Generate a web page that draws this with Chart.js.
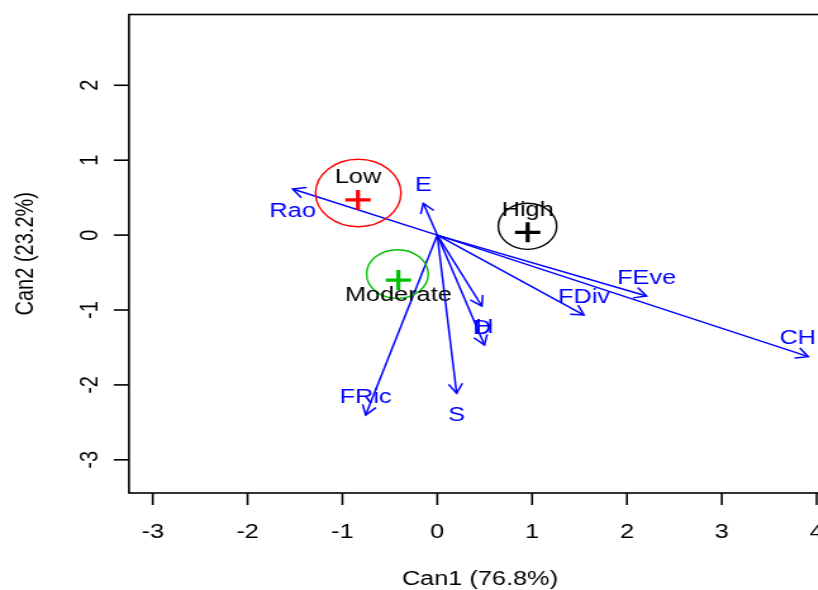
<!DOCTYPE html>
<html>
<head>
<meta charset="utf-8">
<script src="https://cdn.jsdelivr.net/npm/chart.js@4.4.1/dist/chart.umd.min.js"></script>
<style>
  html, body { margin: 0; padding: 0; background: #fff; overflow: hidden; width: 818px; height: 590px; }
  /* the plot is drawn with an equal aspect ratio and then widened horizontally */
  #wrap { width: 700px; height: 590px; transform: scaleX(1.266); transform-origin: 0 0; }
</style>
</head>
<body>
<div id="wrap"><canvas id="c" width="700" height="590"></canvas></div>
<script>
// group centroids on the canonical axes
const groups = ['Low', 'Moderate', 'High'];
const groupMeanX = [-0.836, -0.41, 0.953];
const groupMeanY = [0.469, -0.60, 0.037];
// confidence circles around each group
const circleX = [-0.833, -0.42, 0.951];
const circleY = [0.562, -0.52, 0.118];
const circleR = [0.45, 0.325, 0.308];
const groupColors = ['#FF0000', '#00C000', '#000000'];
const groupLabelSide = ['above', 'below', 'above'];

// structure coefficients of the diversity indices
const variables = ['Rao', 'E', 'FEve', 'FDiv', 'CH', 'D', 'H', 'FRic', 'S'];
const vecX = [-1.524, -0.147, 2.207, 1.547, 3.912, 0.470, 0.497, -0.755, 0.204];
const vecY = [0.615, 0.424, -0.813, -1.067, -1.623, -0.947, -1.468, -2.403, -2.112];
const vecLabelSide = ['below', 'above', 'above', 'above', 'above', 'below', 'above', 'above', 'below'];

const xTicks = [-3, -2, -1, 0, 1, 2, 3, 4];
const yTicks = [-3, -2, -1, 0, 1, 2];
const xTitle = 'Can1 (76.8%)';
const yTitle = 'Can2 (23.2%)';

const FONT = '20px "Liberation Sans", Arial, sans-serif';
const BLUE = '#0000FF';
const STRETCH = 1.266;           // horizontal widening applied by CSS
const VISIBLE_RIGHT = 816 / STRETCH; // keep labels inside the window

const datasets = [{
  label: 'centroids',
  data: groups.map((g, i) => ({ x: groupMeanX[i], y: groupMeanY[i] })),
  pointStyle: 'cross',
  pointRadius: 10,
  pointBorderWidth: 3.2,
  borderColor: groupColors,
  backgroundColor: groupColors,
  showLine: false,
  order: 0
}];
variables.forEach((v, i) => {
  datasets.push({
    label: v,
    data: [{ x: 0, y: 0 }, { x: vecX[i], y: vecY[i] }],
    showLine: true,
    borderColor: BLUE,
    borderWidth: 1.5,
    pointRadius: 0,
    order: 1
  });
});

const decorations = {
  id: 'decorations',
  afterDatasetsDraw(chart) {
    const ctx = chart.ctx;
    const xs = chart.scales.x, ys = chart.scales.y;
    ctx.save();
    // group circles
    groups.forEach((g, i) => {
      const cx = xs.getPixelForValue(circleX[i]);
      const cy = ys.getPixelForValue(circleY[i]);
      const rx = Math.abs(xs.getPixelForValue(circleX[i] + circleR[i]) - cx);
      const ry = Math.abs(ys.getPixelForValue(circleY[i] + circleR[i]) - cy);
      ctx.beginPath();
      ctx.ellipse(cx, cy, rx, ry, 0, 0, Math.PI * 2);
      ctx.strokeStyle = groupColors[i];
      ctx.lineWidth = 1.4;
      ctx.stroke();
    });
    // arrow heads
    ctx.strokeStyle = BLUE;
    ctx.lineWidth = 1.5;
    const x0 = xs.getPixelForValue(0), y0 = ys.getPixelForValue(0);
    variables.forEach((v, i) => {
      const tx = xs.getPixelForValue(vecX[i]);
      const ty = ys.getPixelForValue(vecY[i]);
      const a = Math.atan2(ty - y0, tx - x0);
      const L = 11, w = Math.PI / 6;
      ctx.beginPath();
      ctx.moveTo(tx - L * Math.cos(a - w), ty - L * Math.sin(a - w));
      ctx.lineTo(tx, ty);
      ctx.lineTo(tx - L * Math.cos(a + w), ty - L * Math.sin(a + w));
      ctx.stroke();
    });
    // labels
    ctx.font = FONT;
    ctx.textAlign = 'center';
    ctx.textBaseline = 'middle';
    ctx.fillStyle = BLUE;
    variables.forEach((v, i) => {
      let tx = xs.getPixelForValue(vecX[i]);
      const ty = ys.getPixelForValue(vecY[i]);
      const half = ctx.measureText(v).width / 2;
      if (tx + half > VISIBLE_RIGHT) tx = VISIBLE_RIGHT - half;
      ctx.fillText(v, tx, ty + (vecLabelSide[i] === 'above' ? -18 : 22));
    });
    ctx.fillStyle = '#000';
    groups.forEach((g, i) => {
      const px = xs.getPixelForValue(groupMeanX[i]);
      const py = ys.getPixelForValue(groupMeanY[i]);
      ctx.fillText(g, px, py + (groupLabelSide[i] === 'above' ? -22 : 15));
    });
    ctx.restore();
  },
  afterDraw(chart) {
    const ctx = chart.ctx;
    const area = chart.chartArea;
    const xs = chart.scales.x, ys = chart.scales.y;
    ctx.save();
    ctx.strokeStyle = '#000';
    ctx.fillStyle = '#000';
    ctx.lineWidth = 1.6;
    ctx.strokeRect(area.left, area.top, area.right - area.left, area.bottom - area.top);
    ctx.font = FONT;
    ctx.textAlign = 'center';
    ctx.textBaseline = 'middle';
    xTicks.forEach(v => {
      const px = xs.getPixelForValue(v);
      ctx.beginPath();
      ctx.moveTo(px, area.bottom);
      ctx.lineTo(px, area.bottom + 12);
      ctx.stroke();
      ctx.fillText(String(v), px, 532);
    });
    yTicks.forEach(v => {
      const py = ys.getPixelForValue(v);
      ctx.beginPath();
      ctx.moveTo(area.left - 12, py);
      ctx.lineTo(area.left, py);
      ctx.stroke();
      ctx.save();
      ctx.translate(71, py);
      ctx.rotate(-Math.PI / 2);
      ctx.fillText(String(v), 0, 0);
      ctx.restore();
    });
    ctx.fillText(xTitle, (area.left + area.right) / 2, 579);
    ctx.save();
    ctx.translate(20, (area.top + area.bottom) / 2);
    ctx.rotate(-Math.PI / 2);
    ctx.fillText(yTitle, 0, 0);
    ctx.restore();
    ctx.restore();
  }
};

new Chart(document.getElementById('c'), {
  type: 'scatter',
  data: { datasets },
  options: {
    responsive: false,
    animation: false,
    events: [],
    layout: { padding: { left: 101.9, top: 14.5, right: 43.7, bottom: 97 } },
    plugins: { legend: { display: false }, tooltip: { enabled: false } },
    scales: {
      x: { type: 'linear', min: -3.25, max: 4.15, display: false },
      y: { type: 'linear', min: -3.443, max: 2.945, display: false }
    }
  },
  plugins: [decorations]
});
</script>
</body>
</html>
